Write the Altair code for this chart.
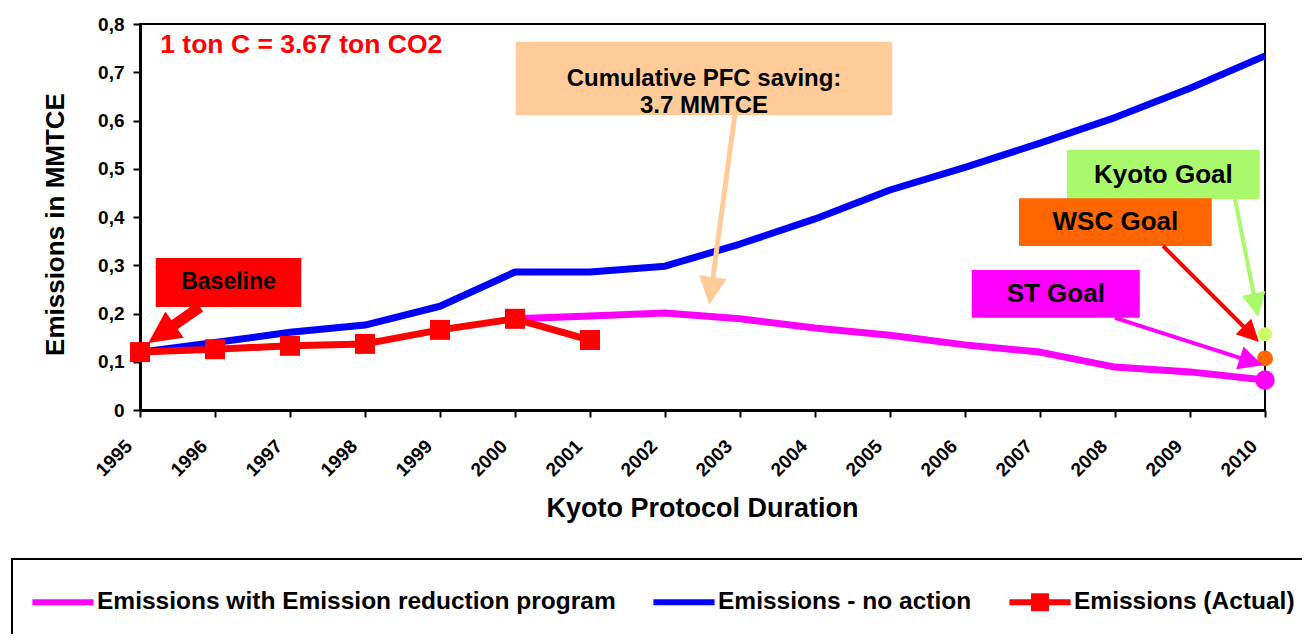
import math
import altair as alt
import pandas as pd

# ---------------- data ----------------
years = list(range(1995, 2011))
no_action = [0.120, 0.140, 0.161, 0.176, 0.215, 0.286, 0.286, 0.298, 0.344, 0.396,
             0.456, 0.503, 0.553, 0.606, 0.667, 0.734]
program_years = list(range(2000, 2011))
program = [0.189, 0.195, 0.201, 0.189, 0.170, 0.155, 0.135, 0.120, 0.089, 0.079, 0.062]
actual_years = list(range(1995, 2002))
actual = [0.120, 0.126, 0.133, 0.137, 0.166, 0.189, 0.145]

series_names = ["Emissions with Emission reduction program", "Emissions - no action",
                "Emissions (Actual)"]
series_colors = ["#FF00FF", "#0000FF", "#FF0000"]

y_ticks = [0, 0.1, 0.2, 0.3, 0.4, 0.5, 0.6, 0.7, 0.8]

goal_names = ["Kyoto Goal", "WSC Goal", "ST Goal"]
goal_values = [0.157, 0.107, 0.062]
goal_colors = ["#CCFF66", "#FF6600", "#FF00FF"]
goal_sizes = [200, 254, 380]
goal_year = 2010

box_labels = ["Baseline", "Cumulative PFC saving:\n3.7 MMTCE", "Kyoto Goal", "WSC Goal", "ST Goal"]
box_x1 = [1995.21, 2000.01, 2007.36, 2006.72, 2006.09]
box_x2 = [1997.15, 2005.03, 2009.93, 2009.29, 2008.33]
box_y1 = [0.2135, 0.611, 0.437, 0.340, 0.191]
box_y2 = [0.315, 0.763, 0.539, 0.439, 0.290]
box_fill = ["#FF0000", "#FFCC99", "#AAF86C", "#FF6600", "#FF00FF"]
box_font = [23, 24, 26, 26, 26]

arrow_sx = [1995.80, 2002.93, 2009.60, 2008.64, 2008.00]
arrow_sy = [0.2135, 0.611, 0.437, 0.340, 0.191]
arrow_tx = [1995.11, 2002.59, 2009.91, 2009.92, 2009.97]
arrow_ty = [0.139, 0.218, 0.193, 0.141, 0.093]
arrow_col = ["#FF0000", "#FFCC99", "#AAF86C", "#FF0000", "#FF00FF"]
arrow_w = [11, 5, 4, 4, 4]
arrow_head = [32, 28, 24, 22, 24]

note_text = ["1 ton C = 3.67 ton CO2"]
note_x = [1995.27]
note_y = [0.756]

# ---------------- geometry helpers ----------------
W, H = 1125, 386
X_DOM = [1995, 2010]
Y_DOM = [0, 0.8]
ppx = W / (X_DOM[1] - X_DOM[0])
ppy = H / (Y_DOM[1] - Y_DOM[0])

xs = alt.Scale(domain=X_DOM, nice=False, zero=False)
ys = alt.Scale(domain=Y_DOM, nice=False)
color_scale = alt.Scale(domain=series_names, range=series_colors)

FONT = "Liberation Sans"

line_path = "M-1.33,-0.13H1.33V0.13H-1.33Z"
sq_path = line_path + "M-0.39,-0.39H0.39V0.39H-0.39Z"
shape_scale = alt.Scale(domain=series_names, range=[line_path, line_path, sq_path])

legend = alt.Legend(orient="none", legendX=-128, legendY=535, direction="horizontal",
                    columns=3, title=" ", titleOrient="bottom", titleFontSize=22,
                    titlePadding=0, labelFont=FONT, labelFontSize=24.5,
                    labelFontWeight="bold", labelColor="black", labelLimit=1000,
                    labelOffset=11, symbolSize=2116, symbolOffset=8,
                    symbolStrokeWidth=0, columnPadding=37, padding=20,
                    strokeColor="black")

x_axis = alt.Axis(values=years, format="d", labelAngle=-45, labelAlign="right",
                  labelBaseline="alphabetic", labelPadding=30, labelOffset=-7,
                  labelFont=FONT, labelFontSize=19, labelFontWeight="bold",
                  labelColor="black", labelFlush=False, labelOverlap=False,
                  tickSize=7, tickWidth=2, tickColor="black",
                  domainColor="black", domainWidth=3, grid=False,
                  title="Kyoto Protocol Duration", titleFont=FONT, titleFontSize=27,
                  titleFontWeight="bold", titleColor="black", titleX=562, titleY=98,
                  titleAlign="center", titleBaseline="middle")
y_axis = alt.Axis(values=y_ticks,
                  labelExpr="datum.value == 0 ? '0' : replace(format(datum.value, '.1f'), '.', ',')",
                  labelFont=FONT, labelFontSize=19, labelFontWeight="bold",
                  labelColor="black", labelPadding=9, labelFlush=False,
                  tickSize=7, tickWidth=2, tickColor="black",
                  domainColor="black", domainWidth=3, grid=False,
                  title="Emissions in MMTCE", titleFont=FONT, titleFontSize=26,
                  titleFontWeight="bold", titleColor="black", titleX=-85, titleY=200,
                  titleAngle=270, titleAlign="center", titleBaseline="middle")


def X(field):
    return alt.X(f"{field}:Q", scale=xs, axis=x_axis)


def Y(field):
    return alt.Y(f"{field}:Q", scale=ys, axis=y_axis)


# ---------------- tables ----------------
df_blue = pd.DataFrame({"year": years, "val": no_action, "series": series_names[1]})
df_mag = pd.DataFrame({"year": program_years, "val": program, "series": series_names[0]})
df_red = pd.DataFrame({"year": actual_years, "val": actual, "series": series_names[2]})
df_all = pd.concat([df_mag, df_blue, df_red], ignore_index=True)

df_goal = pd.DataFrame({"name": goal_names, "year": [goal_year] * 3, "val": goal_values,
                        "col": goal_colors, "sz": goal_sizes})

df_box = pd.DataFrame({"label": box_labels, "x1": box_x1, "x2": box_x2, "y1": box_y1,
                       "y2": box_y2, "col": box_fill, "fs": box_font,
                       "cx": [(a + b) / 2 for a, b in zip(box_x1, box_x2)],
                       "cy": [(a + b) / 2 for a, b in zip(box_y1, box_y2)]})

shaft_rows, head_rows = [], []
for sx, sy, tx, ty, c, w, h in zip(arrow_sx, arrow_sy, arrow_tx, arrow_ty, arrow_col,
                                   arrow_w, arrow_head):
    dx = (tx - sx) * ppx
    dy = -(ty - sy) * ppy
    L = math.hypot(dx, dy)
    f = max(0.0, 1 - 0.9 * h / L)
    shaft_rows.append({"sx": sx, "sy": sy, "ex": sx + f * (tx - sx), "ey": sy + f * (ty - sy),
                       "col": c, "w": w})
    ang = math.degrees(math.atan2(dx, -dy)) % 360
    head_rows.append({"tx": tx, "ty": ty, "ang": ang, "sz": h * h, "col": c})
df_shaft = pd.DataFrame(shaft_rows)
df_head = pd.DataFrame(head_rows)

df_note = pd.DataFrame({"text": note_text, "x": note_x, "y": note_y})

# ---------------- layers ----------------
def line_layer(df):
    return alt.Chart(df).mark_line(strokeWidth=7, strokeJoin="round").encode(
        x=X("year"), y=Y("val"),
        color=alt.Color("series:N", scale=color_scale, legend=legend),
    )

blue = line_layer(df_blue)
mag = line_layer(df_mag)
red = line_layer(df_red)

red_pts = alt.Chart(df_red).mark_point(shape="square", filled=True, size=400,
                                       color="#FF0000", opacity=1).encode(
    x=X("year"), y=Y("val"),
)

goals = alt.Chart(df_goal).mark_point(shape="circle", filled=True, opacity=1,
                                      strokeWidth=0).encode(
    x=X("year"), y=Y("val"),
    fill=alt.Fill("col:N", scale=None),
    size=alt.Size("sz:Q", scale=None),
)

boxes = alt.Chart(df_box).mark_rect().encode(
    x=X("x1"), x2="x2:Q", y=Y("y1"), y2="y2:Q",
    fill=alt.Fill("col:N", scale=None),
)

shafts = alt.Chart(df_shaft).mark_rule().encode(
    x=X("sx"), x2="ex:Q", y=Y("sy"), y2="ey:Q",
    stroke=alt.Stroke("col:N", scale=None),
    strokeWidth=alt.StrokeWidth("w:Q", scale=None),
)

heads = alt.Chart(df_head).mark_point(shape="M0,0L-1,2L1,2Z", filled=True, opacity=1,
                                      strokeWidth=0).encode(
    x=X("tx"), y=Y("ty"),
    fill=alt.Fill("col:N", scale=None),
    size=alt.Size("sz:Q", scale=None),
    angle=alt.Angle("ang:Q", scale=None),
)

box_text = alt.Chart(df_box).mark_text(font=FONT, fontWeight="bold", color="black",
                                       align="center", baseline="middle",
                                       lineBreak="\n", lineHeight=27).encode(
    x=X("cx"), y=Y("cy"),
    text="label:N",
    size=alt.Size("fs:Q", scale=None),
)

note = alt.Chart(df_note).mark_text(font=FONT, fontWeight="bold", color="#FF0000",
                                    fontSize=26.5, align="left", baseline="middle").encode(
    x=X("x"), y=Y("y"),
    text="text:N",
)

legend_layer = alt.Chart(df_all).transform_filter("false").mark_point(
    filled=True, opacity=1).encode(
    x=X("year"), y=Y("val"),
    color=alt.Color("series:N", scale=color_scale, legend=legend),
    shape=alt.Shape("series:N", scale=shape_scale, legend=legend),
)

chart = alt.layer(blue, mag, red, red_pts, goals, boxes, shafts, heads, box_text, note,
                  legend_layer).properties(
    width=W, height=H,
    autosize=alt.AutoSizeParams(type="none"),
    padding={"left": 132, "top": 16, "right": 37, "bottom": 224},
).configure(font=FONT).configure_view(stroke="black", strokeWidth=2)

try:
    c2 = chart.configure_legend(strokeWidth=2)
    c2.to_dict()
    chart = c2
except Exception:
    pass

chart.save("out.html", embed_options={"renderer": "svg", "actions": False})
